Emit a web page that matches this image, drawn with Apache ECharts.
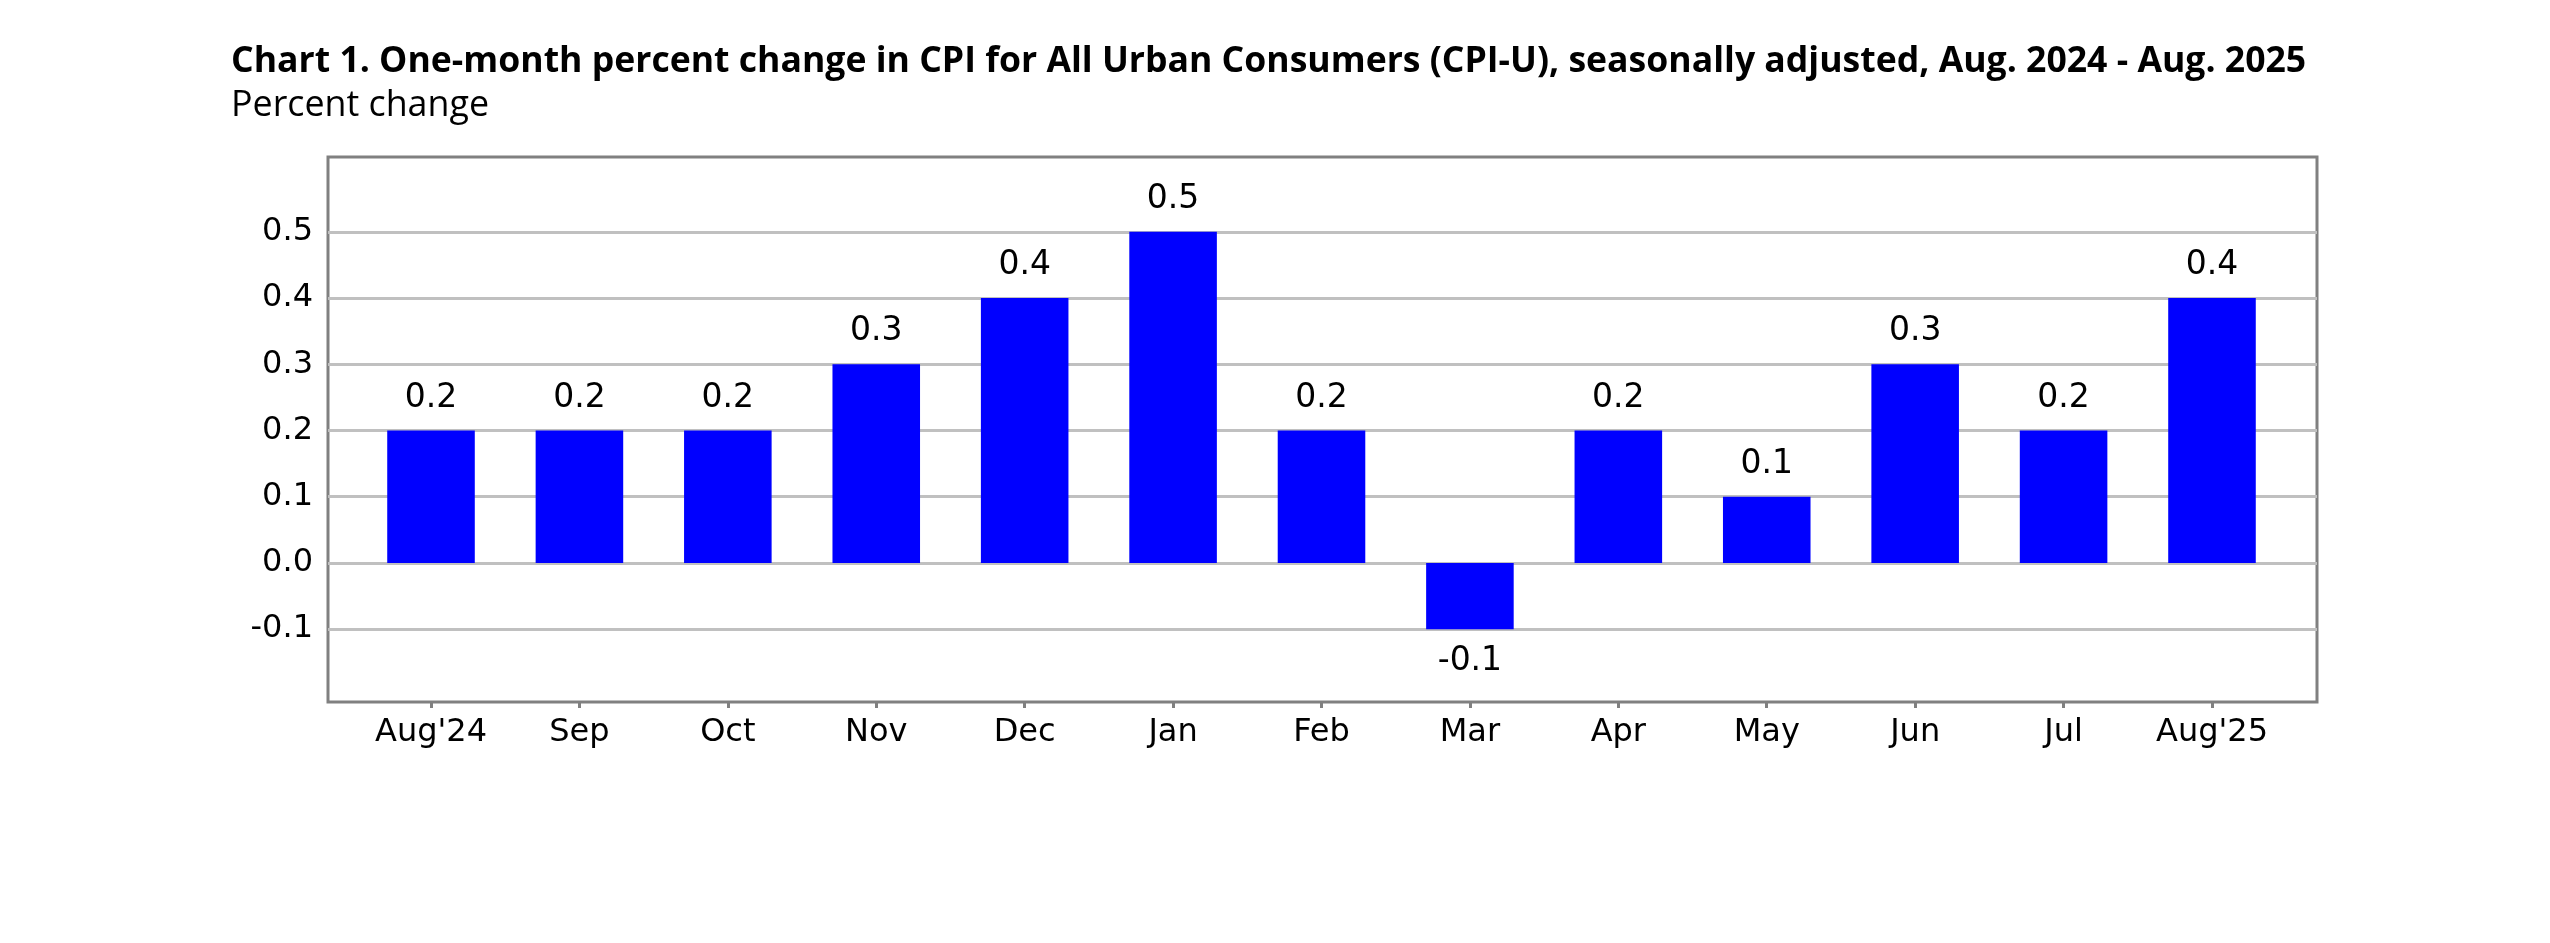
<!DOCTYPE html>
<html>
<head>
<meta charset="utf-8">
<script src="https://cdn.jsdelivr.net/npm/echarts@6/dist/echarts.min.js"></script>
<style>
html,body{margin:0;padding:0;background:#fff;}
#chart{width:2550px;height:943px;}
</style>
</head>
<body>
<div id="chart"></div>
<script>
const categories = ["Aug'24","Sep","Oct","Nov","Dec","Jan","Feb","Mar","Apr","May","Jun","Jul","Aug'25"];
const values = [0.2,0.2,0.2,0.3,0.4,0.5,0.2,-0.1,0.2,0.1,0.3,0.2,0.4];
const yTicks = [-0.1,0.0,0.1,0.2,0.3,0.4,0.5];
const titleText = "Chart 1. One-month percent change in CPI for All Urban Consumers (CPI-U), seasonally adjusted, Aug. 2024 - Aug. 2025";
const subtitleText = "Percent change";

const yMin = -0.21, yMax = 0.613;
const numFont = "DejaVu Sans";
const textFont = "Open Sans";

const chart = echarts.init(document.getElementById('chart'), null, {renderer:'canvas'});
const barData = values.map(v => ({
  value: v,
  label: { position: v < 0 ? 'bottom' : 'top' }
}));

chart.setOption({
  backgroundColor: '#ffffff',
  animation: false,
  title: [
    { text: titleText, left: 226, top: 39,
      textStyle: { fontFamily: textFont, fontWeight: 'bold', fontSize: 35.6, color: '#000' } },
    { text: subtitleText, left: 226, top: 83,
      textStyle: { fontFamily: textFont, fontWeight: 'normal', fontSize: 35.8, color: '#000' } }
  ],
  grid: [
    { left: 328, top: 157, width: 1989, height: 545, show: true,
      borderColor: '#808080', borderWidth: 3, backgroundColor: '#fff', containLabel: false },
    { left: 356.8, top: 157, width: 1929.4, height: 545, containLabel: false }
  ],
  xAxis: [
    { type: 'value', gridIndex: 0, show: false, min: 0, max: 1 },
    { type: 'category', gridIndex: 1, data: categories,
      axisLine: { show: false, onZero: false },
      axisTick: { show: true, alignWithLabel: true, length: 6, lineStyle: { color: '#808080', width: 3 } },
      axisLabel: { margin: 15, fontFamily: numFont, fontSize: 32, color: '#000' },
      splitLine: { show: false }
    }
  ],
  yAxis: [
    { type: 'value', gridIndex: 0, min: yMin, max: yMax,
      axisLine: { show: false },
      axisTick: { show: false, customValues: yTicks },
      axisLabel: { customValues: yTicks, margin: 15, fontFamily: numFont, fontSize: 32, color: '#000',
        formatter: v => Number(v).toFixed(1) },
      splitLine: { show: true, lineStyle: { color: '#c0c0c0', width: 3 } }
    },
    { type: 'value', gridIndex: 1, min: yMin, max: yMax, show: false,
      splitLine: { show: false } }
  ],
  series: [{
    type: 'bar',
    xAxisIndex: 1, yAxisIndex: 1,
    data: barData,
    barCategoryGap: '41%',
    itemStyle: { color: '#0000ff' },
    label: { show: true, distance: 16, fontFamily: numFont, fontSize: 33, color: '#000',
      formatter: p => Number(p.value).toFixed(1) }
  }]
});
</script>
</body>
</html>
